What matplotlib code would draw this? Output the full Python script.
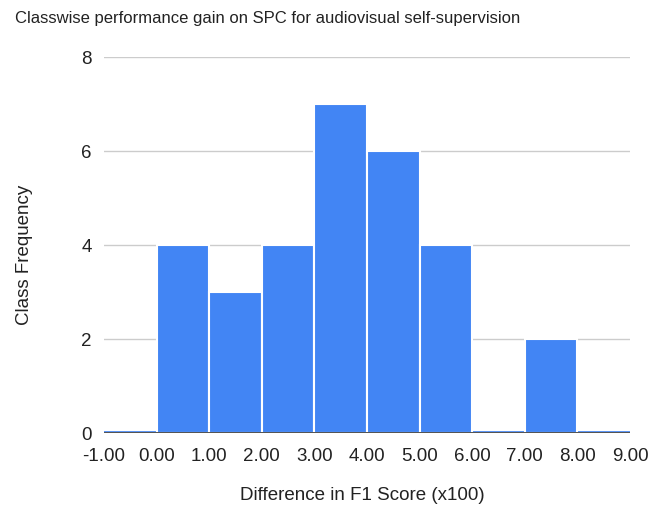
import matplotlib
matplotlib.use('Agg')
import matplotlib.pyplot as plt

plt.rcParams['font.family'] = ['Liberation Sans', 'DejaVu Sans']

# Межі бінів та кількість класів у кожному біні
bin_edges = [-1, 0, 1, 2, 3, 4, 5, 6, 7, 8, 9]
counts = [0, 4, 3, 4, 7, 6, 4, 0, 2, 0]
y_ticks = [0, 2, 4, 6, 8]

bar_color = '#4285f4'
text_color = '#222222'

fig = plt.figure(figsize=(6.7, 5.15), dpi=100)
ax = fig.add_axes([104 / 670, 1 - 433 / 515, 526 / 670, 376 / 515])

lefts = bin_edges[:-1]
widths = [bin_edges[i + 1] - bin_edges[i] for i in range(len(counts))]
ax.bar(lefts, counts, width=widths, align='edge', color=bar_color,
       edgecolor='white', linewidth=1.5, zorder=3)

# тонка синя лінія для нульових бінів
ax.plot([bin_edges[0], bin_edges[-1]], [0.03, 0.03], color=bar_color, lw=2, zorder=2)
ax.axhline(0, color='#333333', lw=1.2, zorder=4)

ax.set_xlim(bin_edges[0], bin_edges[-1])
ax.set_ylim(0, 8)
ax.set_xticks(bin_edges)
ax.set_xticklabels([f'{v:.2f}' for v in bin_edges])
ax.set_yticks(y_ticks)
ax.tick_params(length=0, labelsize=13.5, colors=text_color)
ax.tick_params(axis='x', pad=11)
ax.tick_params(axis='y', pad=9)
ax.grid(axis='y', color='#cccccc', lw=1, zorder=0)
for s in ax.spines.values():
    s.set_visible(False)

fig.text(362 / 670, 1 - 496 / 515, 'Difference in F1 Score (x100)', fontsize=13.5,
         ha='center', va='center', color=text_color)
fig.text(25 / 670, 1 - 255 / 515, 'Class Frequency', fontsize=13.5, rotation=90,
         ha='center', va='center', color=text_color)
fig.text(15 / 670, 1 - 18 / 515, 'Classwise performance gain on SPC for audiovisual self-supervision',
         fontsize=12, va='center', ha='left', color=text_color)

fig.savefig('out.png', dpi=100)
